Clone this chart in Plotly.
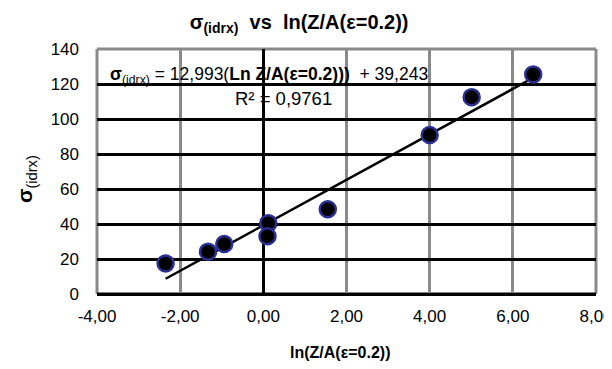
import plotly.graph_objects as go

x_vals = [-2.35, -1.33, -0.94, 0.12, 0.10, 1.55, 4.00, 5.01, 6.49]
y_vals = [17.5, 24.2, 28.6, 40.5, 33.0, 48.4, 90.9, 112.5, 125.5]
slope = 12.993
intercept = 39.243
r2_text = "0,9761"
x_ticks = [-4, -2, 0, 2, 4, 6, 8]
x_ticklabels = ["-4,00", "-2,00", "0,00", "2,00", "4,00", "6,00", "8,00"]
y_ticks = [0, 20, 40, 60, 80, 100, 120, 140]

FONT = "Liberation Sans, Arial, sans-serif"

x_line = [min(x_vals), max(x_vals)]
y_line = [slope * v + intercept for v in x_line]

fig = go.Figure()
fig.add_trace(go.Scatter(x=x_line, y=y_line, mode="lines",
                         line=dict(color="black", width=2.5), showlegend=False))
fig.add_trace(go.Scatter(x=x_vals, y=y_vals, mode="markers",
                         marker=dict(size=16, color="black",
                                     line=dict(color="#2b2f8f", width=2.5)),
                         showlegend=False))

gray = "#8a8a8a"
fig.update_layout(
    width=604, height=361,
    margin=dict(l=89, r=16, t=41, b=75, autoexpand=False),
    paper_bgcolor="white", plot_bgcolor="white",
    font=dict(family=FONT, color="black", size=17),
    title=dict(text="<b>σ<sub>(idrx)</sub>  vs  ln(Z/A(ε=0.2))</b>",
               x=0.482, xanchor="center", y=0.961, yanchor="middle",
               font=dict(size=20, family=FONT)),
    xaxis=dict(range=[-4, 8], tickvals=x_ticks, ticktext=x_ticklabels,
               showgrid=True, gridcolor=gray, gridwidth=3,
               zeroline=True, zerolinecolor="black", zerolinewidth=3,
               showline=False, ticks="", tickfont=dict(size=17),
               ticklabelstandoff=10, automargin=False,
               ticklabeloverflow="allow"),
    yaxis=dict(range=[0, 140], tickvals=y_ticks,
               showgrid=True, gridcolor="black", gridwidth=2.5,
               zeroline=True, zerolinecolor="black", zerolinewidth=3,
               showline=False, ticks="", tickfont=dict(size=17),
               ticklabelstandoff=17, automargin=False),
    shapes=[
        dict(type="line", xref="paper", yref="paper", x0=0, x1=1, y0=1, y1=1,
             line=dict(color=gray, width=3), layer="below"),
        dict(type="line", xref="paper", yref="paper", x0=0, x1=0, y0=0, y1=1,
             line=dict(color=gray, width=3), layer="below"),
        dict(type="line", xref="paper", yref="paper", x0=1, x1=1, y0=0, y1=1,
             line=dict(color=gray, width=3), layer="below"),
        dict(type="line", xref="paper", yref="paper", x0=0, x1=1, y0=0, y1=0,
             line=dict(color="black", width=3), layer="below"),
    ],
    annotations=[
        dict(text="<b>σ</b><sub>(idrx)</sub> = 12,993(<b>Ln Z/A(ε=0.2)))</b>  + 39,243",
             x=-3.74, y=125, xref="x", yref="y", xanchor="left", yanchor="middle",
             showarrow=False, font=dict(size=17.5, family=FONT)),
        dict(text="R² = " + r2_text,
             x=-0.73, y=112, xref="x", yref="y", xanchor="left", yanchor="middle",
             showarrow=False, font=dict(size=18.5, family=FONT)),
        dict(text="<b>ln(Z/A(ε=0.2))</b>",
             x=0.487, y=-0.237, xref="paper", yref="paper",
             xanchor="center", yanchor="middle",
             showarrow=False, font=dict(size=16, family=FONT)),
        dict(text="<b>σ</b><sub>(idrx)</sub>",
             x=-0.142, y=0.47, xref="paper", yref="paper",
             xanchor="center", yanchor="middle", textangle=-90,
             showarrow=False, font=dict(size=21, family=FONT)),
    ],
)

fig.write_html("out.html")
